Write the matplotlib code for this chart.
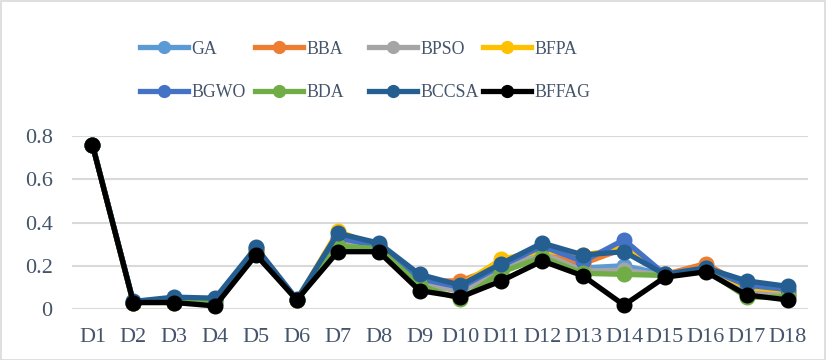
import matplotlib
matplotlib.use("Agg")
import matplotlib.pyplot as plt
from matplotlib.patches import Rectangle

categories = ["D1", "D2", "D3", "D4", "D5", "D6", "D7", "D8", "D9", "D10",
              "D11", "D12", "D13", "D14", "D15", "D16", "D17", "D18"]

GA    = [0.76, 0.03, 0.04, 0.04, 0.27, 0.04, 0.32, 0.29, 0.13, 0.09, 0.19, 0.27, 0.19, 0.20, 0.16, 0.18, 0.09, 0.07]
BBA   = [0.76, 0.03, 0.04, 0.04, 0.27, 0.04, 0.31, 0.29, 0.13, 0.13, 0.20, 0.27, 0.21, 0.28, 0.16, 0.21, 0.10, 0.07]
BPSO  = [0.76, 0.03, 0.03, 0.03, 0.26, 0.04, 0.30, 0.28, 0.12, 0.08, 0.18, 0.26, 0.175, 0.18, 0.155, 0.18, 0.08, 0.06]
BFPA  = [0.76, 0.03, 0.04, 0.04, 0.27, 0.04, 0.36, 0.29, 0.14, 0.11, 0.23, 0.27, 0.25, 0.28, 0.16, 0.19, 0.10, 0.085]
BGWO  = [0.76, 0.03, 0.045, 0.045, 0.28, 0.04, 0.33, 0.29, 0.14, 0.10, 0.20, 0.29, 0.22, 0.32, 0.16, 0.19, 0.11, 0.09]
BDA   = [0.76, 0.03, 0.03, 0.03, 0.26, 0.04, 0.29, 0.28, 0.11, 0.045, 0.17, 0.24, 0.165, 0.16, 0.155, 0.18, 0.055, 0.055]
BCCSA = [0.76, 0.035, 0.055, 0.05, 0.285, 0.045, 0.35, 0.305, 0.16, 0.11, 0.21, 0.305, 0.25, 0.265, 0.16, 0.19, 0.13, 0.105]
BFFAG = [0.758, 0.03, 0.03, 0.014, 0.25, 0.042, 0.265, 0.265, 0.085, 0.055, 0.13, 0.222, 0.153, 0.018, 0.147, 0.172, 0.065, 0.042]

series_names = ["GA", "BBA", "BPSO", "BFPA", "BGWO", "BDA", "BCCSA", "BFFAG"]
series_values = [GA, BBA, BPSO, BFPA, BGWO, BDA, BCCSA, BFFAG]
colors = ["#5B9BD5", "#ED7D31", "#A5A5A5", "#FFC000", "#4472C4", "#70AD47", "#255E91", "#000000"]

yticks = [0, 0.2, 0.4, 0.6, 0.8]
ytick_labels = ["0", "0.2", "0.4", "0.6", "0.8"]

text_color = "#44546A"
plt.rcParams['font.family'] = ['Liberation Serif', 'DejaVu Serif']

W, H = 826, 360
fig = plt.figure(figsize=(W / 100, H / 100), dpi=100)
ax = fig.add_axes([72 / W, (H - 309) / H, (808 - 72) / W, (309 - 136) / H])

x = list(range(len(categories)))
handles = []
for name, vals, c in zip(series_names, series_values, colors):
    h, = ax.plot(x, vals, color=c, lw=3.8, marker='o', ms=10.5, label=name,
                 solid_joinstyle='round', clip_on=False)
    handles.append(h)

ax.set_xlim(-0.5, len(categories) - 0.5)
ax.set_ylim(0, 0.8)
ax.set_yticks(yticks)
ax.set_yticklabels(ytick_labels)
ax.set_xticks(x)
ax.set_xticklabels(categories)
ax.tick_params(axis='both', length=0, labelsize=16, colors=text_color)
ax.tick_params(axis='y', pad=14)
ax.tick_params(axis='x', pad=14)
for s in ax.spines.values():
    s.set_visible(False)
ax.grid(axis='y', color='#D9D9D9', lw=1.5)
ax.set_axisbelow(True)

# legend: 4 columns of equal spacing, 2 rows each
col_x = [140, 255, 369, 483]
for i, cx in enumerate(col_x):
    leg = fig.legend(handles=[handles[i], handles[i + 4]],
                     labels=[series_names[i], series_names[i + 4]],
                     loc='center left', bbox_to_anchor=(cx / W, 1 - 71 / H),
                     frameon=False, fontsize=12.8, borderpad=0, borderaxespad=0,
                     handlelength=2.7, handletextpad=0.2, labelspacing=1.5,
                     labelcolor=text_color)
    for lh in leg.legend_handles:
        lh.set_markersize(8.5)

fig.patches.append(Rectangle((0.5 / W, 0.5 / H), 1 - 1.5 / W, 1 - 1.5 / H,
                             transform=fig.transFigure, fill=False,
                             edgecolor='#D9D9D9', lw=1.2))

fig.savefig("out.png", dpi=100)
